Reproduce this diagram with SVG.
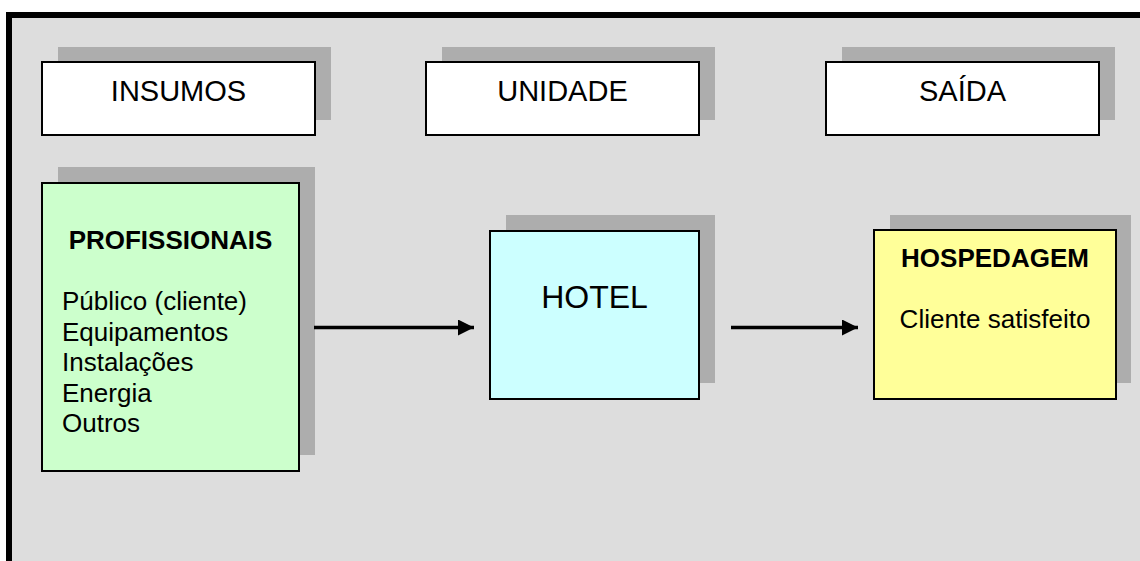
<svg xmlns="http://www.w3.org/2000/svg" width="1140" height="561" viewBox="0 0 1140 561">
  <defs>
    <style>
      .shadow { fill: #ADADAD; }
      .box { stroke: #000000; stroke-width: 2; }
      .hdr { font-family: "Liberation Sans", Arial, sans-serif; font-size: 29px; fill: #000000; text-anchor: middle; }
      .txt { font-family: "Liberation Sans", Arial, sans-serif; font-size: 26px; fill: #000000; }
      .bold { font-weight: bold; }
      .conn { stroke: #000000; stroke-width: 3.5; fill: none; }
    </style>
    <marker id="arrow" markerUnits="userSpaceOnUse" markerWidth="16" markerHeight="16" refX="16" refY="8" orient="auto">
      <path d="M0,0 L16,8 L0,16 Z" fill="#000000"/>
    </marker>
  </defs>
  <rect x="0" y="0" width="1140" height="561" fill="#FFFFFF"/>
  <rect id="frame" x="9" y="15" width="1150" height="560" fill="#DDDDDD" stroke="#000000" stroke-width="6"/>

  <g id="insumos">
    <rect class="shadow" x="58" y="47" width="273" height="73"/>
    <rect class="box" x="42" y="62" width="273" height="73" fill="#FFFFFF"/>
    <text class="hdr" x="178.5" y="100.5">INSUMOS</text>
  </g>
  <g id="unidade">
    <rect class="shadow" x="442" y="47" width="273" height="73"/>
    <rect class="box" x="426" y="62" width="273" height="73" fill="#FFFFFF"/>
    <text class="hdr" x="562.5" y="100.5">UNIDADE</text>
  </g>
  <g id="saida">
    <rect class="shadow" x="842" y="47" width="273" height="73"/>
    <rect class="box" x="826" y="62" width="273" height="73" fill="#FFFFFF"/>
    <text class="hdr" x="962.5" y="100.5">SAÍDA</text>
  </g>

  <g id="profissionais">
    <rect class="shadow" x="58" y="167" width="257" height="288"/>
    <rect class="box" x="42" y="183" width="257" height="288" fill="#CCFFCC"/>
    <text class="txt bold" x="170.5" y="249" text-anchor="middle">PROFISSIONAIS</text>
    <text class="txt" x="62" y="310">Público (cliente)</text>
    <text class="txt" x="62" y="340.5">Equipamentos</text>
    <text class="txt" x="62" y="371">Instalações</text>
    <text class="txt" x="62" y="401.5">Energia</text>
    <text class="txt" x="62" y="432">Outros</text>
  </g>

  <g id="hotel">
    <rect class="shadow" x="506" y="215" width="209" height="168"/>
    <rect class="box" x="490" y="231" width="209" height="168" fill="#CCFFFF"/>
    <text class="hdr" x="594.5" y="307.5" style="font-size:32px">HOTEL</text>
  </g>

  <g id="hospedagem">
    <rect class="shadow" x="890" y="215" width="241" height="168"/>
    <rect class="box" x="874" y="230" width="242" height="169" fill="#FFFF99"/>
    <text class="txt bold" x="995" y="267" text-anchor="middle">HOSPEDAGEM</text>
    <text class="txt" x="995" y="327.5" text-anchor="middle">Cliente satisfeito</text>
  </g>

  <g id="connectors">
    <line class="conn" x1="314" y1="327.5" x2="474" y2="327.5" marker-end="url(#arrow)"/>
    <line class="conn" x1="731" y1="327.5" x2="858" y2="327.5" marker-end="url(#arrow)"/>
  </g>
</svg>
